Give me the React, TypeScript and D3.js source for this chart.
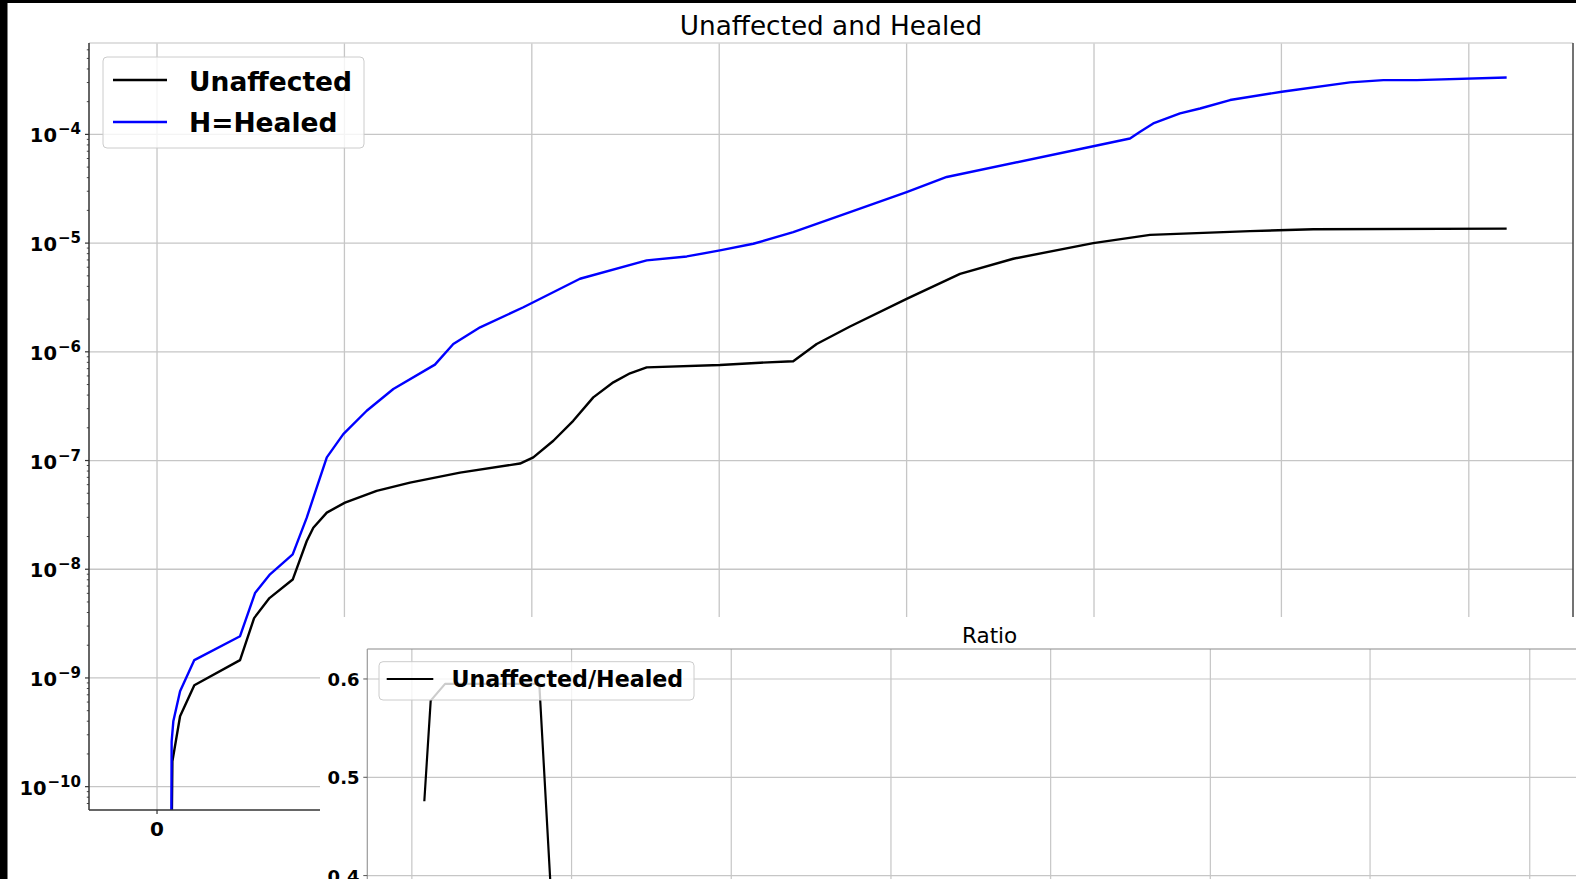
import React from 'react';
import * as d3 from 'd3';

const W = 1576;
const H = 879;

// Unaffected series (x in grid units, y on a log scale)
const unaffectedX = [0.075, 0.082, 0.123, 0.199, 0.443, 0.518, 0.6, 0.724, 0.799, 0.834, 0.906, 1.003, 1.172, 1.35, 1.617, 1.937, 2.008, 2.115, 2.221, 2.328, 2.435, 2.524, 2.613, 3.004, 3.218, 3.395, 3.52, 3.698, 4.0, 4.285, 4.569, 4.996, 5.299, 5.832, 6.17, 7.202];
const unaffectedY = [1e-11, 1.71e-10, 4.44e-10, 8.57e-10, 1.46e-9, 3.55e-9, 5.43e-9, 8.04e-9, 1.82e-8, 2.41e-8, 3.32e-8, 4.1e-8, 5.26e-8, 6.27e-8, 7.75e-8, 9.38e-8, 1.07e-7, 1.52e-7, 2.32e-7, 3.81e-7, 5.24e-7, 6.35e-7, 7.2e-7, 7.57e-7, 7.94e-7, 8.2e-7, 1.18e-6, 1.71e-6, 3.07e-6, 5.22e-6, 7.18e-6, 1.0e-5, 1.19e-5, 1.29e-5, 1.34e-5, 1.36e-5];

// Healed series
const healedX = [0.075, 0.078, 0.087, 0.123, 0.199, 0.443, 0.523, 0.603, 0.724, 0.799, 0.852, 0.906, 0.994, 1.119, 1.261, 1.483, 1.581, 1.724, 1.955, 2.257, 2.613, 2.827, 3.004, 3.182, 3.395, 3.698, 4.0, 4.214, 4.996, 5.192, 5.246, 5.316, 5.459, 5.566, 5.726, 6.002, 6.366, 6.544, 6.722, 7.202];
const healedY = [1e-11, 2.61e-10, 3.99e-10, 7.54e-10, 1.46e-9, 2.42e-9, 6.04e-9, 8.97e-9, 1.37e-8, 2.98e-8, 5.64e-8, 1.07e-7, 1.75e-7, 2.87e-7, 4.55e-7, 7.62e-7, 1.18e-6, 1.68e-6, 2.57e-6, 4.7e-6, 6.93e-6, 7.54e-6, 8.57e-6, 9.87e-6, 1.26e-5, 1.93e-5, 2.95e-5, 4.06e-5, 7.78e-5, 9.17e-5, 1.06e-4, 1.26e-4, 1.56e-4, 1.73e-4, 2.07e-4, 2.47e-4, 3.01e-4, 3.16e-4, 3.16e-4, 3.34e-4];

// Ratio series (Unaffected / Healed)
const ratioX = [0.078, 0.118, 0.208, 0.798, 0.906, 1.003];
const ratioY = [0.4756, 0.578, 0.595, 0.595, 0.28, 0.234];

// Axis ticks
const mainXTicks = [0, 1, 2, 3, 4, 5, 6, 7];
const decadeExps = [-10, -9, -8, -7, -6, -5, -4];
const insetXTicks = [0, 1, 2, 3, 4, 5, 6, 7, 8];
const insetYTicks = [0.4, 0.5, 0.6];

const FONT = '"DejaVu Sans", Verdana, sans-serif';
const GRID = '#c6c6c6';

export default function App() {
  // main axes frame
  const mL = 89, mR = 1573, mT = 43, mB = 810;
  const x = d3.scaleLinear().domain([-0.363, 7.556]).range([mL, mR]);
  const y = d3.scaleLog().domain([6.1e-11, 6.93e-4]).range([mB, mT]);

  // inset axes frame (extends past the page bottom/right)
  const iL = 367.3, iR = 1612, iT = 649, iB = 1100;
  const xi = d3.scaleLinear().domain([-0.279, 7.515]).range([iL, iR]);
  const yi = d3.scaleLinear().domain([0.1717, 0.6305]).range([iB, iT]);

  const unaffectedPath = d3.line<number>().x((_, i) => x(unaffectedX[i])).y(d => y(d))(unaffectedY) || '';
  const healedPath = d3.line<number>().x((_, i) => x(healedX[i])).y(d => y(d))(healedY) || '';
  const ratioPath = d3.line<number>().x((_, i) => xi(ratioX[i])).y(d => yi(d))(ratioY) || '';

  const minor: number[] = [];
  for (let e = -11; e <= -4; e++) {
    for (let k = 2; k <= 9; k++) {
      const v = k * Math.pow(10, e);
      if (v >= 6.1e-11 && v <= 6.93e-4) minor.push(v);
    }
  }

  return (
    <svg width={W} height={H} style={{ position: 'absolute', left: 0, top: 0, background: '#fff' }} fontFamily={FONT}>
      <defs>
        <clipPath id="mainClip"><rect x={mL} y={mT} width={mR - mL} height={mB - mT} /></clipPath>
        <clipPath id="insetClip"><rect x={iL} y={iT} width={iR - iL} height={iB - iT} /></clipPath>
      </defs>
      <rect x={0} y={0} width={W} height={H} fill="#fff" />

      {/* main grid */}
      {mainXTicks.map(t => (
        <line key={'gx' + t} x1={x(t)} x2={x(t)} y1={mT} y2={mB} stroke={GRID} strokeWidth={1.3} />
      ))}
      {decadeExps.map(e => (
        <line key={'gy' + e} x1={mL} x2={mR} y1={y(Math.pow(10, e))} y2={y(Math.pow(10, e))} stroke={GRID} strokeWidth={1.3} />
      ))}

      {/* main curves */}
      <g clipPath="url(#mainClip)">
        <path d={unaffectedPath} fill="none" stroke="#000" strokeWidth={2.4} strokeLinejoin="round" />
        <path d={healedPath} fill="none" stroke="#0000ff" strokeWidth={2.4} strokeLinejoin="round" />
      </g>

      {/* main spines */}
      <line x1={mL} x2={mR} y1={mT} y2={mT} stroke="#d6d6d6" strokeWidth={1.3} />
      <line x1={mR} x2={mR} y1={mT} y2={mB} stroke="#444" strokeWidth={1.5} />
      <line x1={mL} x2={mL} y1={mT} y2={mB} stroke="#333" strokeWidth={1.5} />
      <line x1={mL} x2={mR} y1={mB} y2={mB} stroke="#333" strokeWidth={1.5} />

      {/* main y ticks */}
      {decadeExps.map(e => (
        <line key={'ty' + e} x1={mL - 4} x2={mL} y1={y(Math.pow(10, e))} y2={y(Math.pow(10, e))} stroke="#333" strokeWidth={1.2} />
      ))}
      {minor.map((v, i) => (
        <line key={'my' + i} x1={mL - 2.2} x2={mL} y1={y(v)} y2={y(v)} stroke="#333" strokeWidth={0.9} />
      ))}
      {decadeExps.map(e => (
        <text key={'ly' + e} x={81} y={y(Math.pow(10, e)) + 8} textAnchor="end" fontWeight="bold" fontSize={19.5} fill="#000">
          10<tspan fontSize={15} dx={1} dy={-8}>{'\u2212' + Math.abs(e)}</tspan>
        </text>
      ))}

      {/* main x ticks */}
      {mainXTicks.map(t => (
        <g key={'tx' + t}>
          <line x1={x(t)} x2={x(t)} y1={mB} y2={mB + 4} stroke="#333" strokeWidth={1.2} />
          <text x={x(t)} y={836} textAnchor="middle" fontWeight="bold" fontSize={20} fill="#000">{t}</text>
        </g>
      ))}

      {/* main title */}
      <text x={(mL + mR) / 2} y={34.5} textAnchor="middle" fontSize={26.3} fill="#000">Unaffected and Healed</text>

      {/* main legend */}
      <rect x={103} y={57} width={261} height={91} rx={4} fill="#fff" fillOpacity={0.8} stroke="#cccccc" strokeWidth={1} />
      <line x1={113} x2={167} y1={80} y2={80} stroke="#000" strokeWidth={2.4} />
      <line x1={113} x2={167} y1={122} y2={122} stroke="#0000ff" strokeWidth={2.4} />
      <text x={189} y={90.5} fontWeight="bold" fontSize={26.5} fill="#000">Unaffected</text>
      <text x={189} y={132} fontWeight="bold" fontSize={26.5} fill="#000">H=Healed</text>

      {/* inset panel background */}
      <rect x={320} y={617} width={W - 320} height={H - 617} fill="#fff" />

      {/* inset grid */}
      {insetXTicks.map(t => (
        <line key={'igx' + t} x1={xi(t)} x2={xi(t)} y1={iT} y2={iB} stroke={GRID} strokeWidth={1.2} />
      ))}
      {insetYTicks.map(t => (
        <line key={'igy' + t} x1={iL} x2={iR} y1={yi(t)} y2={yi(t)} stroke={GRID} strokeWidth={1.2} />
      ))}

      {/* ratio curve */}
      <g clipPath="url(#insetClip)">
        <path d={ratioPath} fill="none" stroke="#000" strokeWidth={2.2} strokeLinejoin="round" />
      </g>

      {/* inset spines */}
      <line x1={iL} x2={iR} y1={iT} y2={iT} stroke="#8a8a8a" strokeWidth={1.2} />
      <line x1={iL} x2={iL} y1={iT} y2={iB} stroke="#9a9a9a" strokeWidth={1.2} />

      {/* inset y ticks */}
      {insetYTicks.map(t => (
        <g key={'ity' + t}>
          <line x1={iL - 4} x2={iL} y1={yi(t)} y2={yi(t)} stroke="#555" strokeWidth={1} />
          <text x={359.5} y={yi(t) + 7} textAnchor="end" fontWeight="bold" fontSize={18} fill="#000">{t.toFixed(1)}</text>
        </g>
      ))}

      {/* inset title */}
      <text x={(iL + iR) / 2} y={642.7} textAnchor="middle" fontSize={21.5} fill="#000">Ratio</text>

      {/* inset legend */}
      <rect x={379} y={661.7} width={315} height={38.3} rx={4} fill="#fff" fillOpacity={0.8} stroke="#cccccc" strokeWidth={1} />
      <line x1={386.7} x2={433.3} y1={679} y2={679} stroke="#000" strokeWidth={2.2} />
      <text x={451.5} y={687.3} fontWeight="bold" fontSize={22.2} fill="#000">Unaffected/Healed</text>

      {/* page frame edges */}
      <rect x={0} y={0} width={7.5} height={H} fill="#000" />
      <rect x={0} y={0} width={W} height={3} fill="#000" />
    </svg>
  );
}
